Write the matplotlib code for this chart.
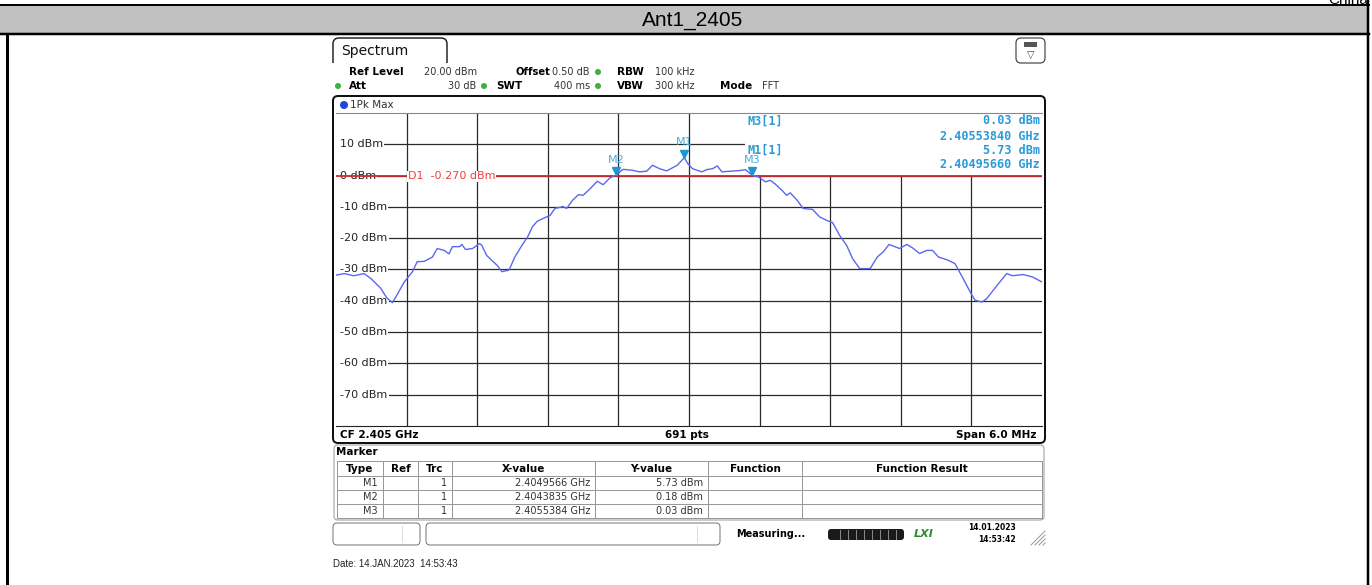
import matplotlib
matplotlib.use('Agg')
import matplotlib.pyplot as plt
from matplotlib.patches import Rectangle, FancyBboxPatch, Circle

# trace (GHz, dBm)
freq_ghz = [2.40200, 2.40207, 2.40215, 2.40224, 2.40230, 2.40238, 2.40243, 2.40248, 2.40252, 2.40258,
            2.40265, 2.40269, 2.40275, 2.40282, 2.40286, 2.40292, 2.40296, 2.40299, 2.40305, 2.40307,
            2.40310, 2.40316, 2.40322, 2.40324, 2.40328, 2.40337, 2.40341, 2.40347, 2.40352, 2.40358,
            2.40363, 2.40367, 2.40371, 2.40376, 2.40382, 2.40386, 2.40393, 2.40396, 2.40401, 2.40406,
            2.40410, 2.40416, 2.40422, 2.40427, 2.40433, 2.40438, 2.40444, 2.40452, 2.40458, 2.40464,
            2.40469, 2.40475, 2.40481, 2.40486, 2.40490, 2.40496, 2.40499, 2.40503, 2.40511, 2.40515,
            2.40520, 2.40524, 2.40528, 2.40535, 2.40543, 2.40548, 2.40554, 2.40559, 2.40565, 2.40569,
            2.40573, 2.40579, 2.40583, 2.40586, 2.40592, 2.40597, 2.40605, 2.40611, 2.40617, 2.40622,
            2.40628, 2.40634, 2.40639, 2.40645, 2.40654, 2.40660, 2.40665, 2.40670, 2.40679, 2.40685,
            2.40690, 2.40696, 2.40702, 2.40707, 2.40712, 2.40720, 2.40726, 2.40733, 2.40739, 2.40743,
            2.40749, 2.40753, 2.40762, 2.40770, 2.40775, 2.40784, 2.40792, 2.40800]
level_dbm = [-31.8, -31.3, -32.0, -31.3, -33.0, -36.0, -39.0, -40.6, -38.0, -34.0,
             -30.7, -27.5, -27.4, -26.0, -23.3, -23.9, -25.0, -22.7, -22.7, -22.0,
             -23.6, -23.3, -21.7, -22.3, -25.5, -28.7, -30.7, -30.2, -26.0, -22.3,
             -19.5, -16.3, -14.6, -13.7, -12.7, -10.5, -9.9, -10.5, -7.9, -6.1,
             -6.3, -4.2, -1.8, -2.9, -0.7, 0.18, 2.0, 1.7, 1.2, 1.4,
             3.3, 2.2, 1.5, 2.5, 3.3, 5.73, 3.8, 2.2, 1.2, 1.9,
             2.2, 3.1, 1.2, 1.4, 1.6, 1.9, 0.03, -0.4, -2.0, -1.5,
             -2.6, -4.7, -6.3, -5.5, -7.9, -10.5, -10.8, -13.2, -14.3, -15.0,
             -19.1, -22.3, -26.5, -29.7, -29.7, -26.0, -24.4, -22.0, -23.3, -22.0,
             -23.1, -24.9, -23.9, -23.9, -26.0, -27.0, -28.1, -32.9, -37.2, -39.8,
             -40.4, -39.3, -35.0, -31.3, -32.0, -31.6, -32.4, -34.0]

marker_names = ['M1', 'M2', 'M3']
marker_freq = [2.4049566, 2.4043835, 2.4055384]
marker_level = [5.73, 0.18, 0.03]
d1_level = -0.270

ref_level = 20
y_levels = [10, 0, -10, -20, -30, -40, -50, -60, -70]
f_start, f_stop = 2.402, 2.408

W, H = 1372, 585
fig = plt.figure(figsize=(W / 100, H / 100), dpi=100)

# background axes in pixel coords (y down)
bg = fig.add_axes([0, 0, 1, 1])
bg.set_xlim(0, W)
bg.set_ylim(H, 0)
bg.axis('off')

def px(v):
    # pixel width -> points
    return v * 0.72

# page frame and title bar
bg.add_patch(Rectangle((0, 5), 1369, 29, fc='#c0c0c0', ec='none'))
bg.plot([0, 1369], [5, 5], color='black', lw=px(2))
bg.plot([0, 1369], [34, 34], color='black', lw=px(2.5))
bg.plot([7, 7], [34, H], color='black', lw=px(3))
bg.plot([1368, 1368], [0, H], color='black', lw=px(2.5))
bg.text(693, 20, 'Ant1_2405', ha='center', va='center', fontsize=15, family='Liberation Sans')
bg.text(1348, 4, 'China', ha='center', va='baseline', fontsize=11, family='Liberation Sans')

# Spectrum tab
bg.add_patch(FancyBboxPatch((333, 38), 114, 40, boxstyle='round,pad=0,rounding_size=6',
                            fc='white', ec='#222', lw=px(1.5)))
bg.add_patch(Rectangle((331, 63), 118, 20, fc='white', ec='none', zorder=3))
bg.text(341, 51, 'Spectrum', va='center', fontsize=10, color='#111')

# small icon top right
bg.add_patch(FancyBboxPatch((1016, 38), 29, 25, boxstyle='round,pad=0,rounding_size=5',
                            fc='white', ec='#444', lw=px(1.2)))
bg.add_patch(Rectangle((1024, 42), 13, 5, fc='#555', ec='none'))
bg.text(1030.5, 55, '\u25bd', ha='center', va='center', fontsize=7, color='#444')

# header settings
hdr = 7.5
val = 7
green = '#3cb043'
def dot(x, y, c=green, r=3):
    bg.add_patch(Circle((x, y), r, fc=c, ec='none', zorder=4))

row1 = 72
row2 = 86
bg.text(349, row1, 'Ref Level', va='center', fontsize=hdr, weight='bold')
bg.text(477, row1, '20.00 dBm', va='center', ha='right', fontsize=val, color='#333')
bg.text(515, row1, 'Offset', va='center', fontsize=7.2, weight='bold')
bg.text(590, row1, '0.50 dB', va='center', ha='right', fontsize=val, color='#333')
dot(598, row1)
bg.text(617, row1, 'RBW', va='center', fontsize=hdr, weight='bold')
bg.text(655, row1, '100 kHz', va='center', fontsize=val, color='#333')
dot(338, row2)
bg.text(349, row2, 'Att', va='center', fontsize=hdr, weight='bold')
bg.text(476, row2, '30 dB', va='center', ha='right', fontsize=val, color='#333')
dot(484, row2)
bg.text(496, row2, 'SWT', va='center', fontsize=hdr, weight='bold')
bg.text(590, row2, '400 ms', va='center', ha='right', fontsize=val, color='#333')
dot(598, row2)
bg.text(617, row2, 'VBW', va='center', fontsize=hdr, weight='bold')
bg.text(655, row2, '300 kHz', va='center', fontsize=val, color='#333')
bg.text(720, row2, 'Mode', va='center', fontsize=hdr, weight='bold')
bg.text(762, row2, 'FFT', va='center', fontsize=val, color='#333')

# trace panel
bg.add_patch(FancyBboxPatch((333, 96), 712, 347, boxstyle='round,pad=0,rounding_size=5',
                            fc='white', ec='#111', lw=px(2)))
dot(344, 105, c='#2244dd', r=4)
bg.text(350, 105, '1Pk Max', va='center', fontsize=hdr, color='#333')
bg.text(340, 435, 'CF 2.405 GHz', va='center', fontsize=hdr, weight='bold')
bg.text(687, 435, '691 pts', va='center', ha='center', fontsize=hdr, weight='bold')
bg.text(1037, 435, 'Span 6.0 MHz', va='center', ha='right', fontsize=hdr, weight='bold')

# marker table panel
bg.add_patch(FancyBboxPatch((334, 445), 710, 75, boxstyle='round,pad=0,rounding_size=4',
                            fc='white', ec='#aaa', lw=px(1.2)))
bg.text(336, 452, 'Marker', va='center', fontsize=hdr, weight='bold')
col_edges = [337, 383, 418, 452, 595, 708, 802, 1042]
row_edges = [461, 476, 490, 504, 518]
col_names = ['Type', 'Ref', 'Trc', 'X-value', 'Y-value', 'Function', 'Function Result']
for x in col_edges:
    bg.plot([x, x], [row_edges[0], row_edges[-1]], color='#999', lw=px(1))
for y in row_edges:
    bg.plot([col_edges[0], col_edges[-1]], [y, y], color='#999', lw=px(1))
for i, name in enumerate(col_names):
    bg.text((col_edges[i] + col_edges[i + 1]) / 2, 468.5, name, ha='center', va='center',
            fontsize=hdr, weight='bold')
for r, (name, f, v) in enumerate(zip(marker_names, marker_freq, marker_level)):
    yc = (row_edges[r + 1] + row_edges[r + 2]) / 2
    cells = [name, '', '1', f'{f:.7f} GHz', f'{v:.2f} dBm']
    for i, txt in enumerate(cells):
        bg.text(col_edges[i + 1] - 5, yc, txt, ha='right', va='center', fontsize=7, color='#333')

# status bar
bg.add_patch(FancyBboxPatch((333, 523), 87, 22, boxstyle='round,pad=0,rounding_size=4',
                            fc='white', ec='#777', lw=px(1)))
bg.plot([402, 402], [526, 542], color='#ddd', lw=px(1))
bg.add_patch(FancyBboxPatch((426, 523), 294, 22, boxstyle='round,pad=0,rounding_size=4',
                            fc='white', ec='#777', lw=px(1)))
bg.plot([697, 697], [526, 542], color='#ddd', lw=px(1))
bg.text(736, 534, 'Measuring...', va='center', fontsize=7, weight='bold')
bg.add_patch(FancyBboxPatch((828, 529), 76, 11, boxstyle='round,pad=0,rounding_size=3',
                            fc='#1a1a1a', ec='none'))
for x in range(840, 900, 8):
    bg.plot([x, x], [530, 539], color='#888', lw=px(1))
bg.text(914, 534, 'LXI', va='center', fontsize=8, weight='bold', style='italic', color='#2e8b2e')
bg.text(1016, 527, '14.01.2023', va='center', ha='right', fontsize=5.5, weight='bold')
bg.text(1016, 539, '14:53:42', va='center', ha='right', fontsize=5.5, weight='bold')
for k in range(4):
    bg.plot([1031 + 4 * k, 1045], [545, 531 + 4 * k], color='#999', lw=px(1))

bg.text(333, 564, 'Date: 14.JAN.2023  14:53:43', va='center', fontsize=7,
        family='Liberation Sans', color='#222')

# plot area
x0, x1, y0, y1 = 336, 1042, 113, 426
ax = fig.add_axes([x0 / W, 1 - y1 / H, (x1 - x0) / W, (y1 - y0) / H])
ax.set_xlim(f_start, f_stop)
ax.set_ylim(-80, ref_level)
ax.set_xticks([])
ax.set_yticks([])
for s in ['left', 'right']:
    ax.spines[s].set_visible(False)
ax.spines['top'].set_color('#888')
ax.spines['bottom'].set_color('#222')

step = (f_stop - f_start) / 10
for i in range(1, 10):
    ax.axvline(f_start + i * step, color='#2a2a2a', lw=0.9, zorder=1)
for lv in y_levels:
    ax.axhline(lv, xmin=0.009, color='#2a2a2a', lw=0.9, zorder=1)
    ax.text(0.006, lv, f'{lv} dBm', transform=ax.get_yaxis_transform(), va='center', ha='left',
            fontsize=8, color='#222', zorder=2,
            bbox=dict(fc='white', ec='none', pad=0.8))

# white area behind the marker readout (grid hidden, trace still drawn)
ax.add_patch(Rectangle(((745 - x0) / (x1 - x0), (y1 - 175) / (y1 - y0)),
                       (x1 - 745) / (x1 - x0), (175 - y0) / (y1 - y0),
                       transform=ax.transAxes, fc='white', ec='none', zorder=2.5))

ax.axhline(d1_level, color='#cc2a2a', lw=1.3, zorder=3)
ax.text(0.102, d1_level, f'D1  {d1_level:.3f} dBm', transform=ax.get_yaxis_transform(),
        va='center', ha='left', fontsize=8, color='#f04040', zorder=4,
        bbox=dict(fc='white', ec='none', pad=0.5))

ax.plot(freq_ghz, level_dbm, color='#5a68f0', lw=1.0, zorder=5)

mcol = '#1f95d4'
for name, f, v in zip(marker_names, marker_freq, marker_level):
    ax.plot(f, v + 1.3, marker='v', ms=6, color=mcol, mec=mcol, zorder=6)
    ax.annotate(name, (f, v), xytext=(0, 11), textcoords='offset points', ha='center',
                va='center', fontsize=8, color='#45ace0', zorder=6)

# marker readout texts
ov = fig.add_axes([0, 0, 1, 1], facecolor='none')
ov.set_xlim(0, W)
ov.set_ylim(H, 0)
ov.axis('off')
info = [('M3[1]', 2, 121, 136), ('M1[1]', 0, 150, 165)]
for label, idx, ya, yb in info:
    ov.text(747, ya, label, va='center', fontsize=8.5, family='DejaVu Sans Mono',
            weight='bold', color='#2a9ad8')
    ov.text(1040, ya, f'{marker_level[idx]:.2f} dBm', va='center', ha='right', fontsize=8.5,
            family='DejaVu Sans Mono', weight='bold', color='#2a9ad8')
    ov.text(1040, yb, f'{marker_freq[idx]:.8f} GHz', va='center', ha='right', fontsize=8.5,
            family='DejaVu Sans Mono', weight='bold', color='#2a9ad8')

fig.savefig('out.png', dpi=100)
